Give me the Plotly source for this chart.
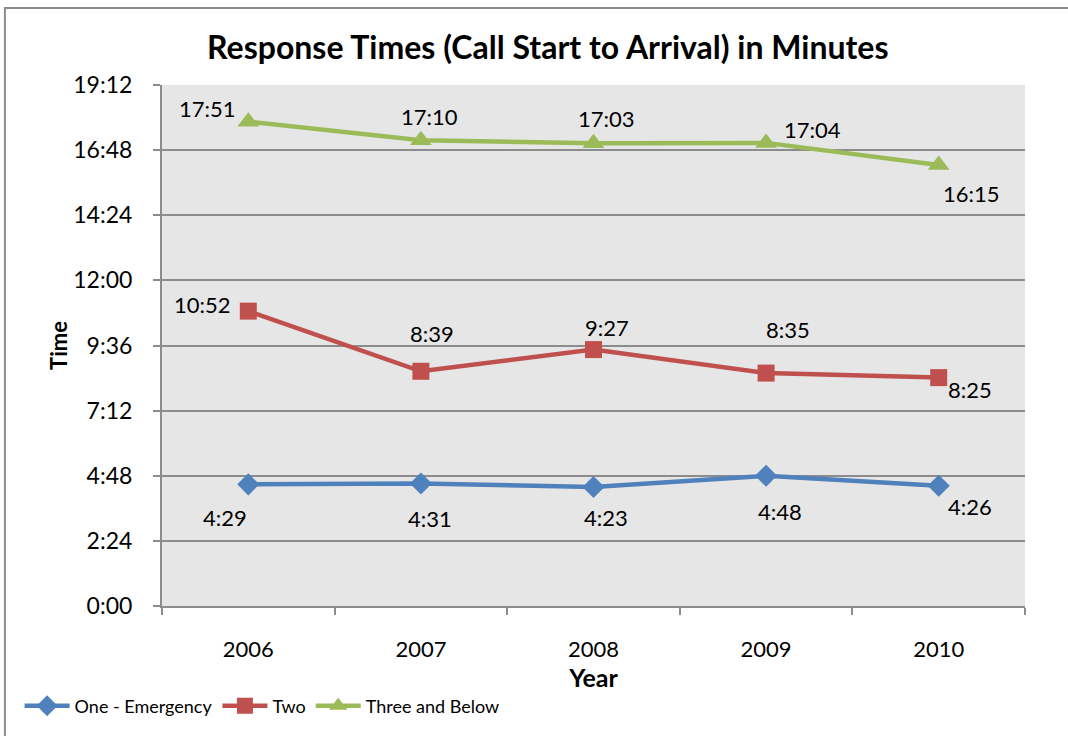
import plotly.graph_objects as go

years = ["2006", "2007", "2008", "2009", "2010"]
one_emergency = ["4:29", "4:31", "4:23", "4:48", "4:26"]
two = ["10:52", "8:39", "9:27", "8:35", "8:25"]
three_and_below = ["17:51", "17:10", "17:03", "17:04", "16:15"]

# y axis ticks every 2:24 up to 19:12
tick_labels = ["0:00", "2:24", "4:48", "7:12", "9:36", "12:00", "14:24", "16:48", "19:12"]


def to_sec(s):
    m, sec = s.split(":")
    return int(m) * 60 + int(sec)


series = [
    ("One - Emergency", one_emergency, "#4F81BD", "diamond", 17),
    ("Two", two, "#C0504D", "square", 17),
    ("Three and Below", three_and_below, "#9BBB59", "triangle-up", 19),
]

# label offsets in pixels (xshift, yshift) per point, like excel's label placement
label_shift = {
    "One - Emergency": [(-23, -33), (9, -35), (12, -30), (14, -36), (31, -21)],
    "Two": [(-46, 7), (11, 38), (13, 22), (22, 44), (31, -12)],
    "Three and Below": [(-41, 13), (9, 24), (13, 25), (46, 13), (33, -28)],
}

font = "Lato"
fig = go.Figure()

for name, vals, color, symbol, msize in series:
    secs = [to_sec(v) for v in vals]
    fig.add_trace(
        go.Scatter(
            x=years,
            y=secs,
            mode="lines+markers",
            name=name,
            line=dict(color=color, width=4.5),
            marker=dict(symbol=symbol, size=msize, color=color),
        )
    )
    for i, (s, txt) in enumerate(zip(secs, vals)):
        dx, dy = label_shift[name][i]
        fig.add_annotation(
            x=i, y=s, xref="x", yref="y", text=txt, showarrow=False,
            xshift=dx, yshift=dy,
            font=dict(family=font, size=22, color="black"),
        )

tick_vals = [to_sec(t) for t in tick_labels]

fig.update_xaxes(
    type="category",
    range=[-0.5, 4.5],
    tickson="boundaries",
    ticks="outside",
    ticklen=7,
    tickcolor="#8c8c8c",
    tickwidth=2,
    showline=True,
    linecolor="#8c8c8c",
    linewidth=2,
    showgrid=False,
    ticklabelstandoff=23,
    tickfont=dict(family=font, size=22, color="black"),
    title=dict(text="<b>Year</b>", font=dict(family=font, size=25, color="black"), standoff=3),
)
fig.update_yaxes(
    range=[0, tick_vals[-1]],
    tickvals=tick_vals,
    ticktext=tick_labels,
    ticks="outside",
    ticklen=7,
    tickcolor="#8c8c8c",
    tickwidth=2,
    showline=True,
    linecolor="#8c8c8c",
    linewidth=2,
    showgrid=True,
    gridcolor="#8c8c8c",
    gridwidth=1.5,
    zeroline=False,
    ticklabelstandoff=16,
    tickfont=dict(family=font, size=23, color="black"),
    title=dict(text="<b>Time</b>", font=dict(family=font, size=22, color="black"), standoff=0),
)

fig.update_layout(
    width=1068,
    height=736,
    margin=dict(l=162, r=43, t=85, b=130, autoexpand=False),
    paper_bgcolor="white",
    plot_bgcolor="#e6e6e6",
    title=dict(
        text="<b>Response Times (Call Start to Arrival) in Minutes</b>",
        x=0.447, xref="paper", xanchor="center",
        y=1 - 48 / 736, yref="container", yanchor="middle",
        font=dict(family=font, size=32, color="black"),
    ),
    showlegend=True,
    legend=dict(
        orientation="h",
        x=-0.165, xanchor="left",
        y=-0.192, yanchor="middle",
        font=dict(family=font, size=18, color="black"),
        itemwidth=45,
        bgcolor="rgba(0,0,0,0)",
    ),
    shapes=[
        dict(
            type="rect", xref="paper", yref="paper",
            x0=-0.182, x1=1.2, y0=-0.4, y1=1.148,
            line=dict(color="#8c8c8c", width=2), layer="below",
        )
    ],
)

fig.write_html(
    "out.html",
    config={"displayModeBar": False},
    post_script="document.body.style.margin='0px';",
)
